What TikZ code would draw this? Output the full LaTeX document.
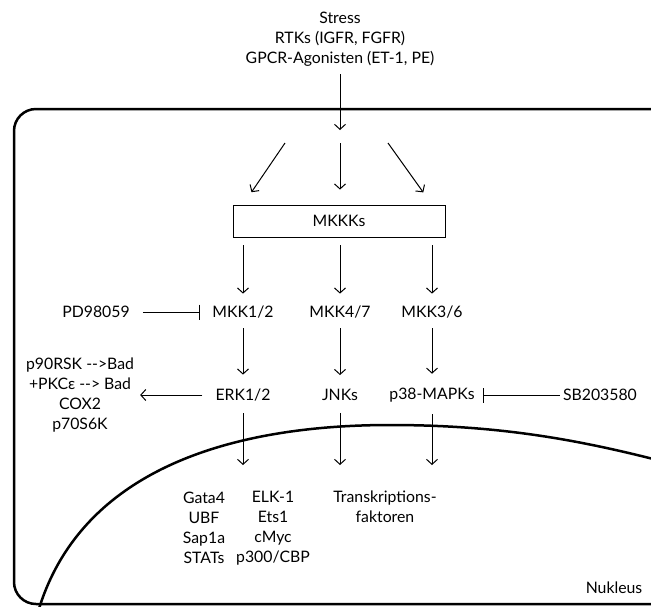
\documentclass[tikz,border=0pt]{standalone}
\usepackage{fontspec}
\setmainfont{Lato}
\usetikzlibrary{arrows.meta}

\begin{document}
\begin{tikzpicture}[x=1pt,y=-1pt,
  txt/.style={font=\fontsize{15.8}{20}\selectfont, inner sep=0pt, align=center},
  pfeil/.style={-{Straight Barb[length=5pt,width=11pt]}, line width=1pt},
  hemmung/.style={-{Bar[width=15pt]}, line width=1pt}]
  \useasboundingbox (0,0) rectangle (651,606);
  \clip (0,0) rectangle (651,606);

  % Zelle und Nukleus
  \draw[line width=2.5pt, rounded corners=22pt] (680,109) -- (14,109) -- (14,604) -- (680,604);
  \draw[line width=2.5pt] (38,612) .. controls (80,470) and (230,425) .. (390,425)
        .. controls (500,425) and (580,440) .. (665,462);

  % Stimuli
  \node[txt] (stimuli) at (340,39) {Stress\\RTKs (IGFR, FGFR)\\GPCR-Agonisten (ET-1, PE)};
  \coordinate (eintritt) at (340,130);
  \coordinate (li) at (285,143);
  \coordinate (mi) at (340,143);
  \coordinate (re) at (388,143);

  % Kinasen
  \node[txt, draw, line width=0.8pt, minimum width=212pt, minimum height=32pt] (mkkk) at (339,221) {MKKKs};
  \node[txt] (mkk12) at (243,312) {MKK1/2};
  \node[txt] (mkk47) at (340,312) {MKK4/7};
  \node[txt] (mkk36) at (432,312) {MKK3/6};
  \node[txt] (erk) at (243,395) {ERK1/2};
  \node[txt] (jnk) at (340,395) {JNKs};
  \node[txt] (p38) at (432,395) {p38-MAPKs};

  % Hemmstoffe und Ziele
  \node[txt] (pd) at (96,312) {PD98059};
  \node[txt] (sb) at (600,395) {SB203580};
  \node[txt] (zyto) at (80,395) {p90RSK -{}->Bad\\+PKCε -{}-> Bad\\COX2\\p70S6K};
  \node[txt] (tf1) at (204,528) {Gata4\\UBF\\Sap1a\\STATs};
  \node[txt] (tf2) at (273,528) {ELK-1\\Ets1\\cMyc\\p300/CBP};
  \node[txt] (tf3) at (385,507) {Transkriptions-\\faktoren};
  \node[txt] (nukleus) at (614,588) {Nukleus};
  \coordinate (erkziel) at (243,465);
  \coordinate (jnkziel) at (340,465);
  \coordinate (p38ziel) at (432,465);

  % Pfeile
  \draw[pfeil, shorten <=8pt] (stimuli.south) -- (eintritt);
  \draw[pfeil, shorten >=15pt] (li) -- (mkkk.north -| mkk12);
  \draw[pfeil, shorten >=15pt] (mi) -- (mkkk.north -| mkk47);
  \draw[pfeil, shorten >=15pt] (re) -- (mkkk.north -| mkk36);
  \draw[pfeil, shorten <=8pt, shorten >=12pt] (mkkk.south -| mkk12) -- (mkk12);
  \draw[pfeil, shorten <=8pt, shorten >=12pt] (mkkk.south -| mkk47) -- (mkk47);
  \draw[pfeil, shorten <=8pt, shorten >=12pt] (mkkk.south -| mkk36) -- (mkk36);
  \draw[pfeil, shorten <=10pt, shorten >=14pt] (mkk12) -- (erk);
  \draw[pfeil, shorten <=10pt, shorten >=14pt] (mkk47) -- (jnk);
  \draw[pfeil, shorten <=10pt, shorten >=14pt] (mkk36) -- (p38);
  \draw[pfeil, shorten <=12pt] (erk) -- (erkziel);
  \draw[pfeil, shorten <=12pt] (jnk) -- (jnkziel);
  \draw[pfeil, shorten <=12pt] (p38) -- (p38ziel);
  \draw[pfeil, shorten <=13pt, shorten >=6pt] (erk.west) -- (zyto.east |- erk.west);
  \draw[hemmung, shorten <=13pt, shorten >=12pt] (pd.east) -- (mkk12.west);
  \draw[hemmung, shorten <=3pt, shorten >=8pt] (sb.west) -- (p38.east);
\end{tikzpicture}
\end{document}
